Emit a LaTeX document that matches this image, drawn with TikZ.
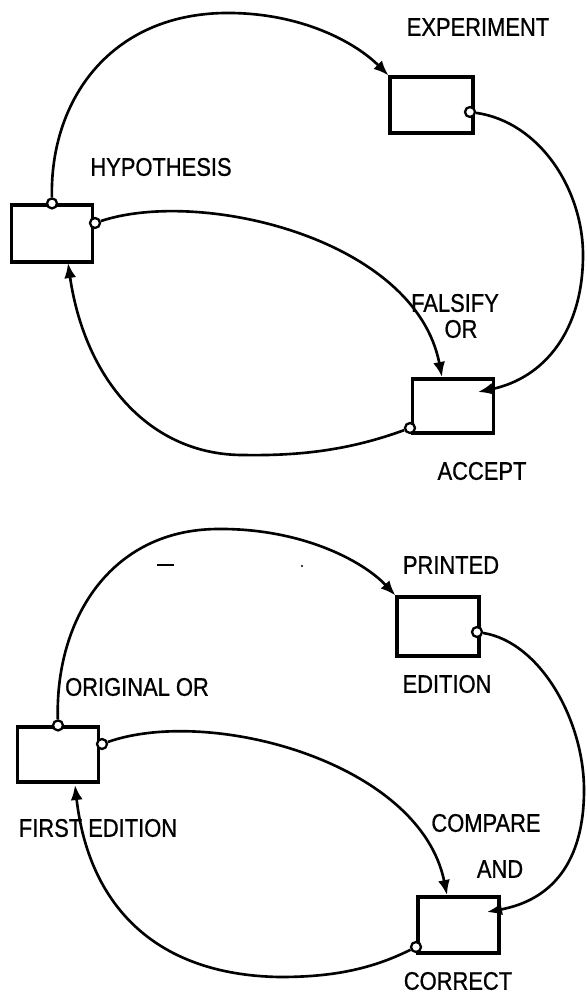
\documentclass[tikz,border=0pt]{standalone}
\usepackage{fontspec}
\setmainfont[FakeStretch=0.86, FakeBold=0.8]{Liberation Sans}
\usetikzlibrary{arrows.meta}

\tikzset{
    stock/.style={draw, line width=1.8pt, minimum width=1.62cm, minimum height=1.14cm, inner sep=0pt},
    port/.style={draw, circle, fill=white, line width=1.3pt, minimum size=0.2cm, inner sep=0pt},
    flow/.style={line width=1.5pt, -{Latex[length=0.3cm, width=0.24cm]}},
    caption/.style={font=\fontsize{14.5}{16}\selectfont, inner sep=0pt}
}

\begin{document}
\begin{tikzpicture}[x=0.02cm, y=-0.02cm]
    \useasboundingbox (0,0) rectangle (586,997);

    % Draw the upper loop boxes
    \node[stock, minimum height=1.14cm] (hyp) at (52,233.5) {};
    \node[stock, minimum width=1.66cm, minimum height=1.12cm] (exp) at (431.5,105) {};
    \node[stock, minimum height=1.08cm] (acc) at (453,406) {};

    % Label the upper boxes
    \node[caption] (hyp-label) at (161,167) {HYPOTHESIS};
    \node[caption] (exp-label) at (478,27) {EXPERIMENT};
    \node[caption] (fal-label) at (455,303) {FALSIFY};
    \node[caption] (or-label) at (461,329) {OR};
    \node[caption] (acc-label) at (482,471) {ACCEPT};

    % Outflow circles and inflow points
    \node[port] (hyp-top) at (hyp.north) {};
    \node[port] (hyp-right) at (95,223) {};
    \node[port] (exp-right) at (470,112) {};
    \node[port] (acc-left) at (410,428) {};
    \coordinate (acc-top) at (442,377);
    \coordinate (acc-right) at (478,392);
    \coordinate (hyp-bottom) at (68,263);

    % Add the upper connectors
    \draw[flow] (hyp-top) .. controls (50,100) and (110,15) .. (224,13)
        .. controls (300,12) and (355,42) .. (exp.north west);
    \draw[flow] (exp-right) .. controls (540,122) and (583,190) .. (583,255)
        .. controls (583,330) and (545,378) .. (acc-right);
    \draw[flow] (hyp-right) .. controls (200,188) and (415,238) .. (acc-top);
    \draw[flow] (acc-left) .. controls (350,450) and (300,456) .. (243,455)
        .. controls (150,455) and (85,380) .. (hyp-bottom);

    % Draw the lower loop boxes
    \node[stock, minimum height=1.10cm] (org) at (58,754.5) {};
    \node[stock, minimum width=1.64cm, minimum height=1.18cm] (prn) at (438,626.5) {};
    \node[stock, minimum height=1.12cm] (cmp) at (458.5,925) {};

    % Label the lower boxes
    \node[caption] (prn-label) at (451,565) {PRINTED};
    \node[caption] (edi-label) at (447,684) {EDITION};
    \node[caption] (org-label) at (137,687) {ORIGINAL OR};
    \node[caption] (fst-label) at (98,828) {FIRST EDITION};
    \node[caption] (cmp-label) at (486,823) {COMPARE};
    \node[caption] (and-label) at (500,869) {AND};
    \node[caption] (cor-label) at (458,981) {CORRECT};

    % Outflow circles and inflow points
    \node[port] (org-top) at (org.north) {};
    \node[port] (org-right) at (102,744) {};
    \node[port] (prn-right) at (477,632) {};
    \node[port] (cmp-left) at (416,947) {};
    \coordinate (cmp-top) at (447,895);
    \coordinate (cmp-right) at (487,912);
    \coordinate (org-bottom) at (75,785);

    % Add the lower connectors
    \draw[flow] (org-top) .. controls (55,620) and (110,530) .. (217,529)
        .. controls (300,528) and (362,560) .. (prn.north west);
    \draw[flow] (prn-right) .. controls (540,642) and (584,720) .. (584,790)
        .. controls (584,862) and (552,900) .. (cmp-right);
    \draw[flow] (org-right) .. controls (210,706) and (420,762) .. (cmp-top);
    \draw[flow] (cmp-left) .. controls (370,970) and (330,977) .. (280,977)
        .. controls (150,975) and (88,900) .. (org-bottom);

    % Stray marks
    \draw[line width=1.2pt] (157,565) -- (174,565);
    \fill (302,566) circle (1.2);

\end{tikzpicture}
\end{document}
